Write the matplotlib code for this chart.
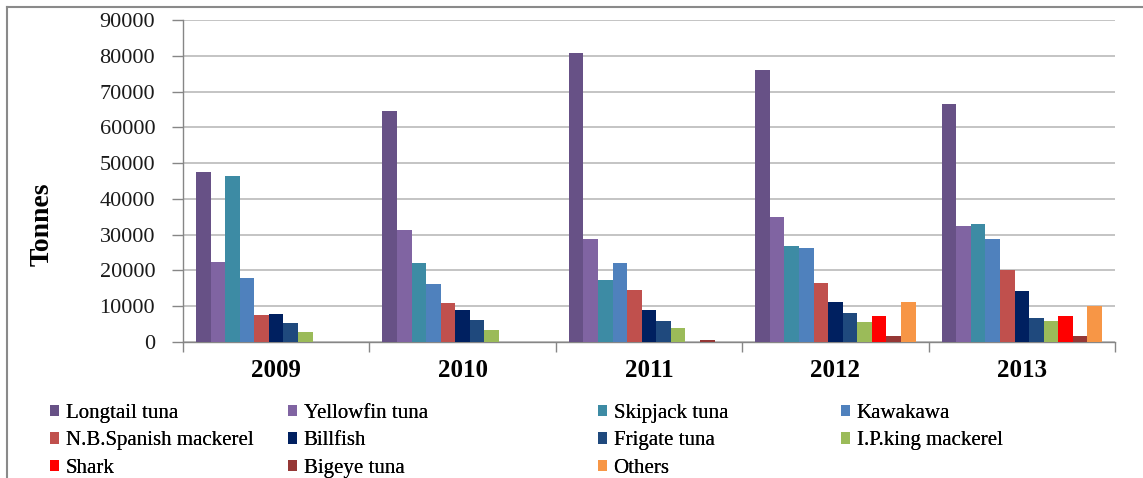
import matplotlib
matplotlib.use("Agg")
import matplotlib.pyplot as plt
from matplotlib.lines import Line2D
from matplotlib.patches import Patch
import numpy as np

plt.rcParams["font.family"] = ["Liberation Serif", "DejaVu Serif"]

years = ["2009", "2010", "2011", "2012", "2013"]
species = ["Longtail tuna", "Yellowfin tuna", "Skipjack tuna", "Kawakawa",
           "N.B.Spanish mackerel", "Billfish", "Frigate tuna", "I.P.king mackerel",
           "Shark", "Bigeye tuna", "Others"]
colors = ["#675186", "#8064a2", "#3d8ba4", "#4f81bd", "#c0504d", "#002060",
          "#1f497d", "#9bbb59", "#ff0000", "#953735", "#f79646"]

# catch in tonnes, one list per species (2009..2013)
longtail = [47500, 64500, 80800, 75900, 66400]
yellowfin = [22500, 31400, 28800, 34900, 32400]
skipjack = [46400, 22100, 17400, 26900, 33100]
kawakawa = [17900, 16200, 22100, 26300, 28800]
nb_spanish = [7600, 10900, 14600, 16600, 20000]
billfish = [7900, 9000, 8900, 11300, 14200]
frigate = [5300, 6200, 6000, 8000, 6700]
ip_king = [2800, 3300, 3900, 5600, 5800]
shark = [0, 0, 0, 7200, 7300]
bigeye = [0, 0, 600, 1700, 1800]
others = [0, 0, 0, 11200, 10000]
catches = [longtail, yellowfin, skipjack, kawakawa, nb_spanish, billfish,
           frigate, ip_king, shark, bigeye, others]

W, H = 1143, 478
fig = plt.figure(figsize=(W / 100, H / 100), dpi=100)
ax = fig.add_axes([183 / W, 1 - 342 / H, 932 / W, 322 / H])

n = len(species)
bw = 0.0783
x = np.arange(len(years))
for i, (vals, c) in enumerate(zip(catches, colors)):
    ax.bar(x + (i - (n - 1) / 2) * bw, vals, width=bw, color=c, label=species[i],
           edgecolor="none", zorder=3)

ax.set_xlim(-0.5, len(years) - 0.5)
ax.set_ylim(0, 90000)
ax.set_yticks(np.arange(0, 90001, 10000))
ax.tick_params(axis="y", labelsize=16, length=8, width=1, color="#868686",
               pad=12, labelcolor="#1a1a1a")
ax.set_xticks(x)
ax.set_xticklabels(years, fontsize=18, fontweight="bold")
ax.set_xticks(np.arange(-0.5, len(years)), minor=True)
ax.tick_params(axis="x", which="major", length=0, pad=12)
ax.tick_params(axis="x", which="minor", length=7, width=1, color="#868686")
ax.grid(axis="y", color="#c4c4c4", lw=1.4, zorder=0)
for s in ["top", "right"]:
    ax.spines[s].set_visible(False)
for s in ["left", "bottom"]:
    ax.spines[s].set_color("#868686")
    ax.spines[s].set_linewidth(1)

fig.text(42 / W, 1 - 224 / H, "Tonnes", rotation=90, ha="center", va="center",
         fontsize=20, fontweight="bold")

# legend: four columns, entries run left to right row by row
col_x = [50, 288, 598, 841]
for c, left in enumerate(col_x):
    idx = list(range(c, n, 4))
    handles = [Patch(facecolor=colors[k], edgecolor="none") for k in idx]
    leg = fig.legend(handles, [species[k] for k in idx], loc="upper left",
                     bbox_to_anchor=(left / W, 1 - 404 / H), frameon=False,
                     fontsize=15, handlelength=0.45, handleheight=0.45,
                     handletextpad=0.3, labelspacing=0.4, borderaxespad=0,
                     borderpad=0)
    fig.add_artist(leg)

# outer frame edges
fig.add_artist(Line2D([7 / W, 7 / W], [0, 1 - 7 / H], color="#8a8a8a", lw=1.5))
fig.add_artist(Line2D([7 / W, 1], [1 - 7 / H, 1 - 7 / H], color="#8a8a8a", lw=1.5))

fig.savefig("out.png", dpi=100)
